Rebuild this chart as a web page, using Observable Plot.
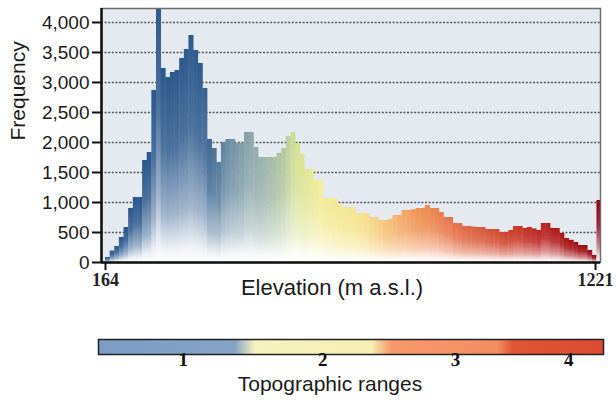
<!DOCTYPE html>
<html>
<head>
<meta charset="utf-8">
<script src="https://cdn.jsdelivr.net/npm/d3@7"></script>
<script src="https://cdn.jsdelivr.net/npm/@observablehq/plot@0.6"></script>
<style>
  html, body { margin: 0; padding: 0; background: #ffffff; }
  #chart { width: 616px; height: 405px; overflow: hidden; }
  #chart svg { display: block; }
</style>
</head>
<body>
<div id="chart"></div>
<script>
// ---- Data ----
const firstBin = 164;        // m a.s.l.
const binWidth = 10;         // m
const frequency = [
  83,190,267,417,583,900,1083,1083,1700,1833,
  2867,4400,3233,3083,3167,3200,3400,3550,3783,3533,
  3317,2900,2050,1900,1667,2000,2050,2050,1983,1983,
  2167,2167,1917,1750,1750,1750,1750,1817,1900,2100,
  2167,1983,1800,1550,1550,1367,1367,1067,1067,1067,
  983,917,917,917,817,817,817,750,750,700,
  700,720,783,783,867,867,880,900,900,950,
  900,900,833,750,750,650,650,600,600,590,
  583,583,550,550,550,500,500,533,600,600,
  567,583,560,533,650,650,567,567,483,400,
  370,333,283,283,200,117,1033
];
const yTicks = [0, 500, 1000, 1500, 2000, 2500, 3000, 3500, 4000];
const gridTicks = [500, 1000, 1500, 2000, 2500, 3000, 3500, 4000];
const xTicks = [164, 1221];
const xDomain = [155.4, 1231.7];
const yDomain = [0, 4233];

// colour ramp along elevation (top colour of bars)
const colorStopElev = [164, 370, 434, 498, 552, 574, 628, 714, 757, 800, 843, 908, 973, 1038, 1102, 1167, 1230];
const colorStopHex  = ["#28548a","#2e5b8d","#6f8fa6","#98b0ac","#b5c99f","#d3e092","#f2ec9a","#f6e48e",
                       "#f6cc82","#f3ac6a","#ee9050","#e8744a","#d85a38","#cc3c28","#bb2020","#a51010","#8f0010"];

// legend
const rangeLabels = ["1", "2", "3", "4"];
const rangeLabelPos = [16.8, 44.4, 70.7, 93.1];           // % along bar
const legendStopPos = [0, 27, 31, 54, 58, 79, 82, 100];   // %
const legendStopHex = ["#7b9cc6","#86a3c6","#f5f3c0","#f7efb2","#f7996c","#f38d62","#e05535","#dc4b30"];

// ---- Build table ----
const bins = frequency.map((f, i) => ({
  i,
  x1: firstBin + i * binWidth,
  x2: firstBin + (i + 1) * binWidth,
  freq: f
}));
const rampColor = d3.scaleLinear().domain(colorStopElev).range(colorStopHex).interpolate(d3.interpolateRgb).clamp(true);

function barDefs() {
  const defs = d3.create("svg:defs");
  for (const b of bins) {
    const c = rampColor((b.x1 + b.x2) / 2);
    const g = defs.append("linearGradient").attr("id", "bar" + b.i)
      .attr("x1", 0).attr("y1", 0).attr("x2", 0).attr("y2", 1);
    const stops = [[0, 0], [0.4, 0.15], [0.75, 0.55], [0.93, 0.92], [1, 1]];
    for (const [o, w] of stops) {
      g.append("stop").attr("offset", o).attr("stop-color", d3.interpolateRgb(c, "#ffffff")(w));
    }
  }
  return defs.node();
}

const sans = "'Liberation Sans', Arial, sans-serif";
const serif = "'Liberation Serif', 'Times New Roman', serif";

const main = Plot.plot({
  width: 616,
  height: 310,
  marginLeft: 101,
  marginRight: 16,
  marginTop: 8,
  marginBottom: 48,
  style: { fontFamily: sans, background: "transparent", overflow: "visible" },
  x: { domain: xDomain },
  y: { domain: yDomain },
  color: { type: "identity" },
  marks: [
    barDefs,
    Plot.frame({ fill: "#e4eaef" }),
    Plot.ruleY(gridTicks, { stroke: "#555", strokeWidth: 1.6, strokeDasharray: "2,1.6" }),
    Plot.rectY(bins, { x1: "x1", x2: "x2", y: "freq", fill: d => `url(#bar${d.i})`, clip: true,
                       insetRight: -0.4 }),
    Plot.frame({ stroke: "#6e6e6e", strokeWidth: 1.5 }),
    Plot.ruleX([xDomain[0]], { stroke: "#111", strokeWidth: 2.5 }),
    Plot.ruleY([0], { stroke: "#111", strokeWidth: 2.5 }),
    Plot.axisY({ ticks: yTicks, tickFormat: d3.format(","), tickSize: 9, tickPadding: 3, fontSize: 19,
                 label: null, stroke: "#111", strokeWidth: 2, fill: "#1a1a1a" }),
    Plot.axisX({ ticks: xTicks, tickFormat: d => String(d), tickSize: 8, tickPadding: 3, fontSize: 18,
                 fontFamily: serif, fontWeight: "bold", label: null, stroke: "#111", strokeWidth: 2, fill: "#222" }),
    Plot.text(["Frequency"], { text: d => d, frameAnchor: "left", rotate: -90, dx: -83, dy: 5,
                               fontSize: 21, fill: "#1a1a1a" }),
    Plot.text(["Elevation (m a.s.l.)"], { text: d => d, frameAnchor: "bottom", dx: -19, dy: 32,
                               fontSize: 22, fill: "#1a1a1a" })
  ]
});

function legendDefs() {
  const defs = d3.create("svg:defs");
  const g = defs.append("linearGradient").attr("id", "legendGrad")
    .attr("x1", 0).attr("y1", 0).attr("x2", 1).attr("y2", 0);
  legendStopPos.forEach((p, k) => {
    g.append("stop").attr("offset", p / 100).attr("stop-color", legendStopHex[k]);
  });
  return defs.node();
}

const legend = Plot.plot({
  width: 616,
  height: 95,
  marginLeft: 98,
  marginRight: 13,
  marginTop: 29,
  marginBottom: 51,
  style: { fontFamily: sans, background: "transparent", overflow: "visible" },
  x: { domain: [0, 100], axis: null },
  marks: [
    legendDefs,
    Plot.frame({ fill: "url(#legendGrad)", stroke: "#222", strokeWidth: 1.5 }),
    Plot.text(rangeLabels, { x: (d, i) => rangeLabelPos[i], text: d => d, frameAnchor: "bottom", dy: 11,
                             fontSize: 19, fontFamily: serif, fontWeight: "bold", fill: "#111" }),
    Plot.text(["Topographic ranges"], { text: d => d, frameAnchor: "bottom", dx: -21, dy: 36,
                             fontSize: 21, fill: "#1a1a1a" })
  ]
});

const root = document.getElementById("chart");
root.appendChild(main);
root.appendChild(legend);
</script>
</body>
</html>
